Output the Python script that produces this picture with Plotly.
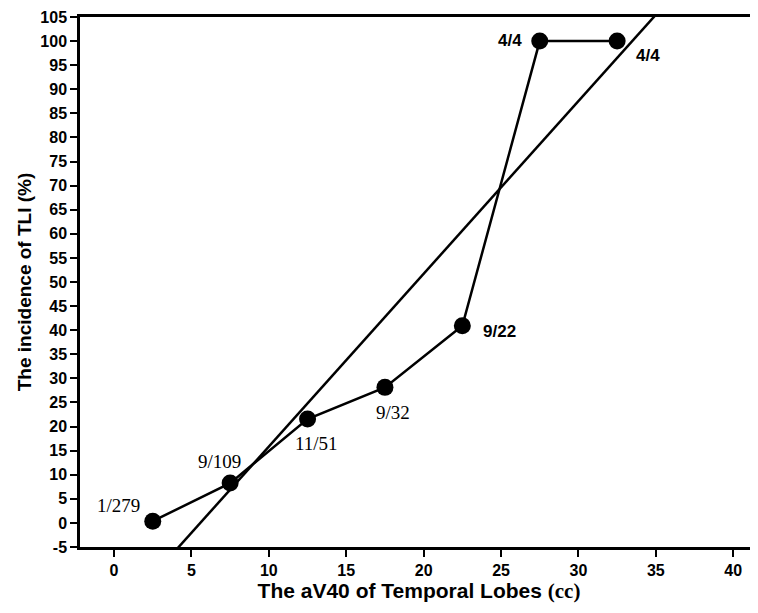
import numpy as np
import plotly.graph_objects as go

# Data
volume_cc = [2.5, 7.5, 12.5, 17.5, 22.5, 27.5, 32.5]
incidence_pct = [0.36, 8.26, 21.57, 28.13, 40.91, 100.0, 100.0]
ratio_labels = ["1/279", "9/109", "11/51", "9/32", "9/22", "4/4", "4/4"]
label_x = [0.26, 6.8, 13.05, 18.03, 24.9, 25.6, 34.5]
label_y = [3.7, 12.8, 16.5, 22.9, 39.7, 100.2, 97.0]
label_fonts = ["serif", "serif", "serif", "serif", "sansb", "sansb", "sansb"]

x_ticks = list(range(0, 41, 5))
y_ticks = list(range(-5, 106, 5))
x_ticktext = [str(v) for v in x_ticks]
y_ticktext = [str(v) for v in y_ticks]

# Linear fit through the points
slope, intercept = np.polyfit(volume_cc, incidence_pct, 1)
fit_x = [0, 42]
fit_y = [slope * v + intercept for v in fit_x]

fig = go.Figure()
fig.add_trace(go.Scatter(x=fit_x, y=fit_y, mode="lines",
                         line=dict(color="black", width=2.5), hoverinfo="skip"))
fig.add_trace(go.Scatter(x=volume_cc, y=incidence_pct, mode="lines+markers",
                         line=dict(color="black", width=2.5),
                         marker=dict(color="black", size=17)))

serif = "Liberation Serif, Times New Roman, serif"
sansn = "Liberation Sans Narrow, Arial Narrow, Liberation Sans, Arial, sans-serif"
sans = "Liberation Sans, Arial, sans-serif"
for lx, ly, txt, f in zip(label_x, label_y, ratio_labels, label_fonts):
    if f == "serif":
        font = dict(family=serif, size=19, color="black")
    else:
        font = dict(family=sansn, size=17, color="black", weight="bold")
    fig.add_annotation(x=lx, y=ly, text=txt, showarrow=False, font=font,
                       xanchor="center", yanchor="middle")

tickfont = dict(family=sansn, size=16, color="black", weight="bold")
fig.update_layout(
    width=750, height=605,
    margin=dict(l=72, r=0, t=9, b=66),
    plot_bgcolor="white", paper_bgcolor="white",
    showlegend=False,
    xaxis=dict(range=[-2.2, 41.6], tickvals=x_ticks, ticktext=x_ticktext,
               ticks="outside", ticklen=7, tickwidth=2, tickcolor="black",
               showline=True, linewidth=2.5, linecolor="black", mirror=True,
               showgrid=False, zeroline=False, automargin=False,
               ticklabeloverflow="allow",
               tickfont=tickfont,
               title=dict(text='The aV40 of Temporal Lobes <span style="font-family:Liberation Serif">(cc)</span>',
                          font=dict(family=sans, size=21, color="black", weight="bold"),
                          standoff=4)),
    yaxis=dict(range=[-5, 105], tickvals=y_ticks, ticktext=y_ticktext,
               ticks="outside", ticklen=7, tickwidth=2, tickcolor="black",
               showline=True, linewidth=2.5, linecolor="black",
               showgrid=False, zeroline=False, automargin=False,
               ticklabeloverflow="allow",
               tickfont=tickfont,
               title=dict(text="The incidence of TLI (%)",
                          font=dict(family=sans, size=19, color="black", weight="bold"),
                          standoff=4)),
)

fig.write_html("out.html")
